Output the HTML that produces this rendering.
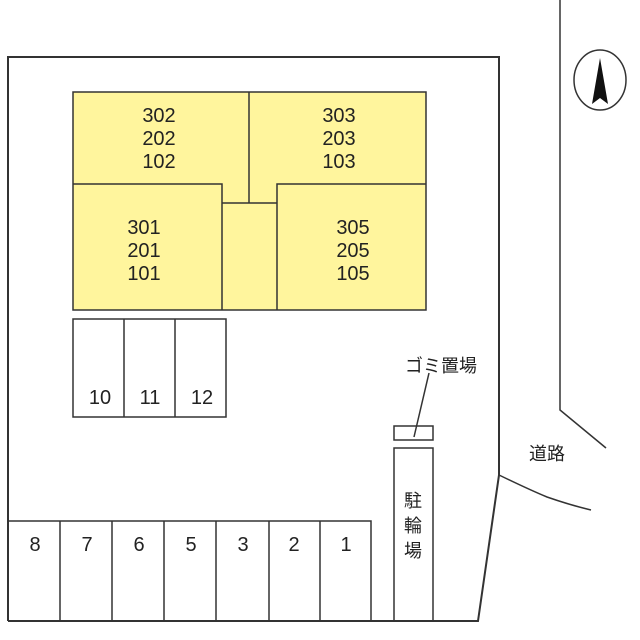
<!DOCTYPE html>
<html><head><meta charset="utf-8"><style>body{margin:0;background:#fff}svg{display:block}
text{font-family:"Liberation Sans","Noto Sans CJK JP",sans-serif;fill:#222}</style></head><body>
<svg width="640" height="640" viewBox="0 0 640 640" xmlns="http://www.w3.org/2000/svg">
<g fill="none" stroke="#333" stroke-width="2">
<polyline points="8,621 8,57 499,57 499,475 478,621 8,621"/>
<polyline points="560,0 560,410 606,448" stroke-width="1.5"/>
<path d="M499,475 Q530,490 547,497 Q570,505 591,510" stroke-width="1.5"/>
</g>
<g fill="#fff59d" stroke="#333" stroke-width="1.5">
<rect x="73" y="92" width="353" height="218"/>
</g>
<g fill="none" stroke="#333" stroke-width="1.5">
<polyline points="73,184 222,184 222,310"/>
<polyline points="426,184 277,184 277,310"/>
<line x1="249" y1="92" x2="249" y2="203"/>
<line x1="222" y1="203" x2="277" y2="203"/>
<rect x="73" y="319" width="153" height="98"/>
<line x1="124" y1="319" x2="124" y2="417"/>
<line x1="175" y1="319" x2="175" y2="417"/>
<polyline points="8,521 371,521 371,621"/>
<line x1="60" y1="521" x2="60" y2="621"/>
<line x1="112" y1="521" x2="112" y2="621"/>
<line x1="164" y1="521" x2="164" y2="621"/>
<line x1="216" y1="521" x2="216" y2="621"/>
<line x1="269" y1="521" x2="269" y2="621"/>
<line x1="320" y1="521" x2="320" y2="621"/>
<rect x="394" y="426" width="39" height="14"/>
<rect x="394" y="448" width="39" height="173"/>
<line x1="429" y1="373" x2="414" y2="437"/>
<ellipse cx="600" cy="80" rx="26" ry="30"/>
</g>
<polygon points="600,58 592,104 600,98 608,104" fill="#111"/>
<g font-size="20" text-anchor="middle">
<text x="159" y="122">302</text><text x="159" y="145">202</text><text x="159" y="168">102</text>
<text x="339" y="122">303</text><text x="339" y="145">203</text><text x="339" y="168">103</text>
<text x="144" y="234">301</text><text x="144" y="257">201</text><text x="144" y="280">101</text>
<text x="353" y="234">305</text><text x="353" y="257">205</text><text x="353" y="280">105</text>
<text x="100" y="404">10</text><text x="150" y="404">11</text><text x="202" y="404">12</text>
<text x="35" y="551">8</text><text x="87" y="551">7</text><text x="139" y="551">6</text>
<text x="191" y="551">5</text><text x="243" y="551">3</text><text x="294" y="551">2</text><text x="346" y="551">1</text>
</g>
<g font-size="18" text-anchor="middle">
<text x="441" y="372">ゴミ置場</text>
<text x="547" y="460">道路</text>
<text x="413" y="507">駐</text><text x="413" y="532">輪</text><text x="413" y="557">場</text>
</g>
</svg>
</body></html>
